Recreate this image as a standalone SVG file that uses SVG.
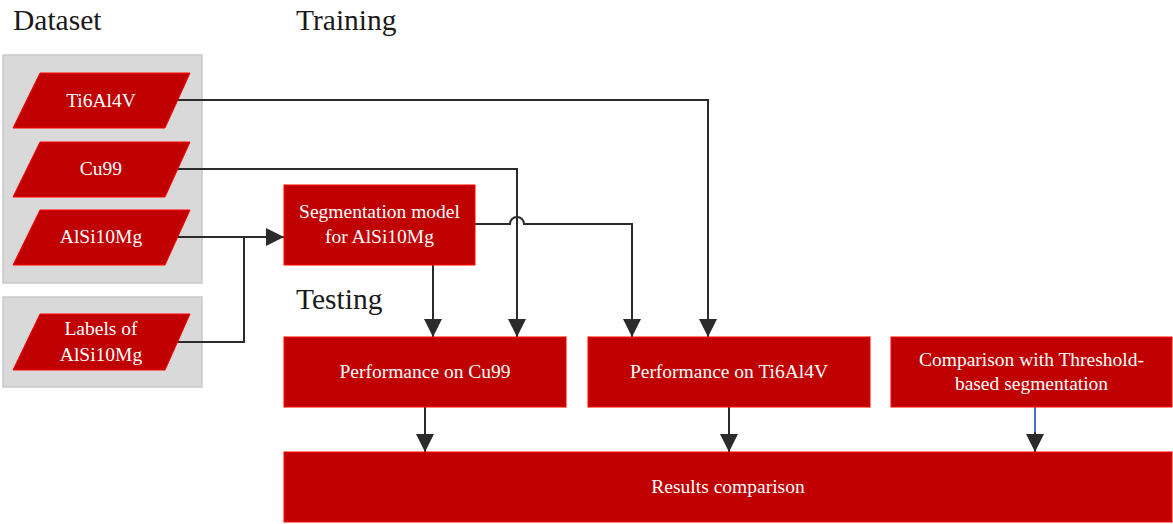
<svg xmlns="http://www.w3.org/2000/svg" width="1173" height="524" viewBox="0 0 1173 524">
<style>
.grp{fill:#D9D9D9;stroke:#C9C9C9;stroke-width:1.5}
.nd{fill:#C00000;stroke:#FF0000;stroke-width:1}
.t{font-family:"Liberation Serif","Times New Roman",serif;font-size:19.5px;fill:#FFFFFF;text-anchor:middle}
.h{font-family:"Liberation Serif","Times New Roman",serif;font-size:29.5px;fill:#1a1a1a}
.c{fill:none;stroke:#2B2B2B;stroke-width:2}
</style>
<defs>
<marker id="ah" viewBox="0 0 18 18" refX="18" refY="9" markerWidth="18" markerHeight="18" markerUnits="userSpaceOnUse" orient="auto">
<path d="M0,0 L18,9 L0,18 z" fill="#2B2B2B"/>
</marker>
</defs>
<rect width="1173" height="524" fill="#FFFFFF"/>
<g id="titles">
<text class="h" x="13" y="30">Dataset</text>
<text class="h" x="296" y="30">Training</text>
<text class="h" x="296" y="309">Testing</text>
</g>
<g id="dataset-group">
<rect class="grp" x="3" y="55" width="199" height="228"/>
</g>
<g id="labels-group">
<rect class="grp" x="3" y="297" width="199" height="90"/>
</g>
<g id="connectors">
<path class="c" d="M176,100 H708 V337" marker-end="url(#ah)"/>
<path class="c" d="M176,169 H517 V337" marker-end="url(#ah)"/>
<path class="c" d="M176,237 H284" marker-end="url(#ah)"/>
<path class="c" d="M176,342 H244 V237"/>
<path class="c" d="M475,224 H510 A7,7 0 0 1 524,224 H632 V337" marker-end="url(#ah)"/>
<path class="c" d="M433,265 V337" marker-end="url(#ah)"/>
<path class="c" d="M425,407 V452" marker-end="url(#ah)"/>
<path class="c" d="M729,407 V452" marker-end="url(#ah)"/>
<path d="M1035,407 V434" fill="none" stroke="#4472C4" stroke-width="2"/>
<path class="c" d="M1035,432 V452" marker-end="url(#ah)"/>
</g>
<g id="n-ti6al4v">
<polygon class="nd" points="40,73 190,73 165,128 13,128"/>
<text class="t" x="101" y="107">Ti6Al4V</text>
</g>
<g id="n-cu99">
<polygon class="nd" points="40,142 190,142 165,197 13,197"/>
<text class="t" x="101" y="175">Cu99</text>
</g>
<g id="n-alsi10mg">
<polygon class="nd" points="40,210 190,210 165,265 13,265"/>
<text class="t" x="101" y="243">AlSi10Mg</text>
</g>
<g id="n-labels">
<polygon class="nd" points="40,314 190,314 165,370 13,370"/>
<text class="t" x="101" y="335">Labels of</text>
<text class="t" x="101" y="361">AlSi10Mg</text>
</g>
<g id="n-segmodel">
<rect class="nd" x="284" y="185" width="191" height="80"/>
<text class="t" x="379.5" y="218">Segmentation model</text>
<text class="t" x="379.5" y="243">for AlSi10Mg</text>
</g>
<g id="n-perf-cu99">
<rect class="nd" x="284" y="337" width="282" height="70"/>
<text class="t" x="425" y="378">Performance on Cu99</text>
</g>
<g id="n-perf-ti">
<rect class="nd" x="588" y="337" width="282" height="70"/>
<text class="t" x="729" y="378">Performance on Ti6Al4V</text>
</g>
<g id="n-comparison">
<rect class="nd" x="891" y="337" width="281" height="70"/>
<text class="t" x="1031.5" y="366">Comparison with Threshold-</text>
<text class="t" x="1031.5" y="390">based segmentation</text>
</g>
<g id="n-results">
<rect class="nd" x="284" y="452" width="888" height="70"/>
<text class="t" x="728" y="493">Results comparison</text>
</g>
</svg>
